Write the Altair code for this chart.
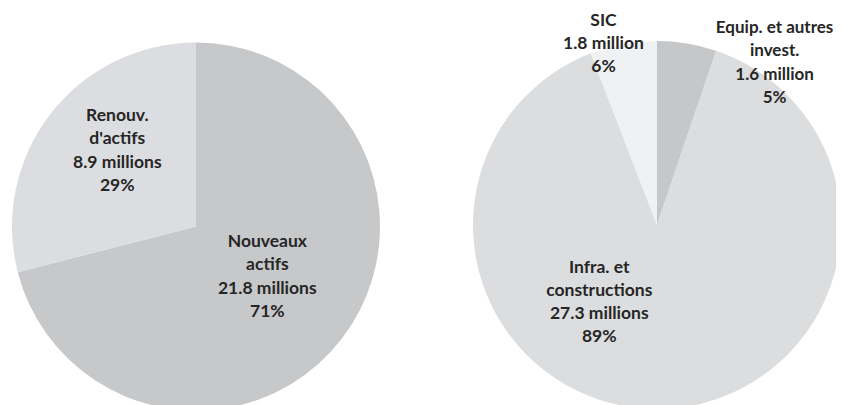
import altair as alt
import pandas as pd

# Left pie: type of investment
left_keys = ["nouveaux", "renouv"]
left_names = ["Nouveaux\nactifs", "Renouv.\nd'actifs"]
left_values = [21.8, 8.9]
left_value_text = ["21.8 millions", "8.9 millions"]
left_pct = ["71%", "29%"]
left_colors = ["#c7c8ca", "#dcdde0"]

# Right pie: asset category
right_keys = ["equip", "infra", "sic"]
right_names = ["Equip. et autres\ninvest.", "Infra. et\nconstructions", "SIC"]
right_values = [1.6, 27.3, 1.8]
right_value_text = ["1.6 million", "27.3 millions", "1.8 million"]
right_pct = ["5%", "89%", "6%"]
right_colors = ["#c6c7c9", "#dcdddf", "#f0f1f2"]


def make_df(keys, names, values, vtexts, pcts, colors):
    return pd.DataFrame({
        "key": keys,
        "value": values,
        "order": list(range(len(keys))),
        "color": colors,
        "text": [f"{n}\n{v}\n{p}" for n, v, p in zip(names, vtexts, pcts)],
    })


left_df = make_df(left_keys, left_names, left_values, left_value_text, left_pct, left_colors)
right_df = make_df(right_keys, right_names, right_values, right_value_text, right_pct, right_colors)

R = 184
LC = (188, 218.5)
RC = (649, 217)
LH = 23.3


def pie(df, c):
    return alt.Chart(df).mark_arc(radius=R).encode(
        theta=alt.Theta("value:Q", stack=True),
        order=alt.Order("order:Q"),
        color=alt.Color("color:N", scale=None),
        x=alt.value(c[0]),
        y=alt.value(c[1]),
    )


def label(df, c, key, r, dx, dy, nlines, size=17.5):
    return alt.Chart(df).transform_window(
        cum="sum(value)", sort=[alt.SortField("order")]
    ).transform_joinaggregate(
        total="sum(value)"
    ).transform_calculate(
        ang="2*PI*(datum.cum - datum.value/2)/datum.total"
    ).transform_filter(
        alt.datum.key == key
    ).mark_text(
        radius=r, dx=dx, dy=dy - (nlines - 1) / 2 * LH, lineBreak="\n", font="Lato",
        fontWeight="bold", fontSize=size, lineHeight=LH, color="#262626",
        align="center", baseline="middle",
    ).encode(
        x=alt.value(c[0]),
        y=alt.value(c[1]),
        theta=alt.Theta("ang:Q", scale=None),
        text="text:N",
    )


left_pie = pie(left_df, LC)
right_pie = pie(right_df, RC)

chart = alt.layer(
    left_pie,
    right_pie,
    label(left_df, LC, "nouveaux", 87, 2.6, -2.8, 4),
    label(left_df, LC, "renouv", 109, 7.4, -8.7, 4),
    label(right_df, RC, "equip", 203, 84.5, 38.3, 4, 17),
    label(right_df, RC, "infra", 97, -59.7, -19.5, 4),
    label(right_df, RC, "sic", 189, -18.9, 4.8, 3),
).resolve_scale(theta="independent").properties(
    width=828, height=397, padding=0,
    autosize=alt.AutoSizeParams(type="none"),
    background="white",
).configure_view(stroke=None)

chart.save("out.html", embed_options={"renderer": "svg", "actions": False})
